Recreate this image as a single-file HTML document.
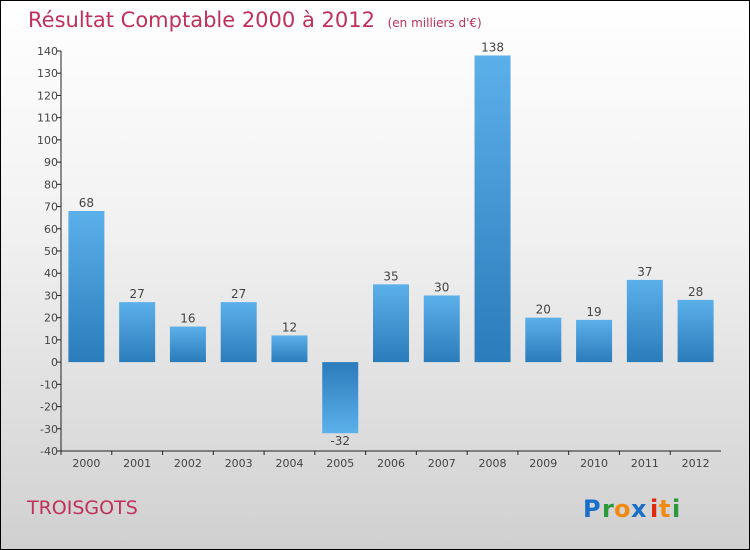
<!DOCTYPE html>
<html><head><meta charset="utf-8"><style>
body{margin:0}
#c{position:relative;width:748px;height:548px;border:1px solid #000;background:linear-gradient(#ffffff,#f2f2f2 40%,#d0d0d0);font-family:"DejaVu Sans","Liberation Sans",sans-serif;overflow:hidden}
</style></head><body>
<div id="c">
<svg id="s" width="748" height="548">
<defs>
<linearGradient id="gp" x1="0" y1="0" x2="0" y2="1"><stop offset="0" stop-color="#5cb0ea"/><stop offset="1" stop-color="#2a7cba"/></linearGradient>
<linearGradient id="gn" x1="0" y1="0" x2="0" y2="1"><stop offset="0" stop-color="#2a7cba"/><stop offset="1" stop-color="#5cb0ea"/></linearGradient>
</defs>
<text x="27" y="26" font-size="21" fill="#c0305a">Résultat Comptable 2000 à 2012 <tspan font-size="12" dx="6">(en milliers d'€)</tspan></text>
<text x="26" y="513" font-size="19" fill="#c0305a">TROISGOTS</text>
<g font-size="24" font-weight="bold">
<text x="582" y="516" fill="#1a6fc8">P</text><text x="601" y="516" fill="#2a9a3a">r</text><text x="613" y="516" fill="#f08a10">o</text><text x="630" y="516" fill="#1a6fc8">x</text><text x="649" y="516" fill="#e02a10">i</text><text x="658" y="516" fill="#f08a10">t</text><text x="671" y="516" fill="#2a9a3a">i</text>
</g>
<g id="ax"></g><g id="bars"></g>
</svg>
</div>
<script>
const categories=["2000","2001","2002","2003","2004","2005","2006","2007","2008","2009","2010","2011","2012"];
const values=[68,27,16,27,12,-32,35,30,138,20,19,37,28];
const yTicks=[-40,-30,-20,-10,0,10,20,30,40,50,60,70,80,90,100,110,120,130,140];
const NS="http://www.w3.org/2000/svg";
const X0=60,X1=720,Y0=450,Y1=50,vmin=-40,vmax=140;
const y=v=>Y0-(v-vmin)/(vmax-vmin)*(Y0-Y1);
const step=(X1-X0)/categories.length;
const xc=i=>X0+step*(i+0.5);
function mk(t,a,p){const e=document.createElementNS(NS,t);for(const k in a)e.setAttribute(k,a[k]);p.appendChild(e);return e;}
const ax=document.getElementById('ax'),bars=document.getElementById('bars');
let l=mk('line',{x1:X0,y1:Y1,x2:X0,y2:Y0,stroke:'#222'},ax);


l=mk('line',{x1:X0,y1:Y0,x2:X1,y2:Y0,stroke:'#222'},ax);


yTicks.forEach(v=>{
 mk('line',{x1:X0-4,y1:y(v),x2:X0,y2:y(v),stroke:'#222'},ax);
 const t=mk('text',{x:X0-3,y:y(v)+4,'font-size':11,fill:'#444','text-anchor':'end'},ax);t.textContent=v;
 
 
});
categories.forEach((c,i)=>{
 mk('line',{x1:X0+step*i,y1:Y0,x2:X0+step*i,y2:Y0+4,stroke:'#222'},ax);
 const t=mk('text',{x:xc(i),y:Y0+16,'font-size':11,fill:'#444','text-anchor':'middle'},ax);t.textContent=c;
 
 
 const v=values[i],w=36;
 const top=Math.min(y(v),y(0)),h=Math.abs(y(v)-y(0));
 const r=mk('rect',{x:xc(i)-w/2,y:top,width:w,height:h,fill:v>=0?'url(#gp)':'url(#gn)'},bars);
 
 
 const lb=mk('text',{x:xc(i),y:v>=0?y(v)-4:y(v)+12,'font-size':12,fill:'#444','text-anchor':'middle'},bars);lb.textContent=v;
 
 
});
</script>
</body></html>
